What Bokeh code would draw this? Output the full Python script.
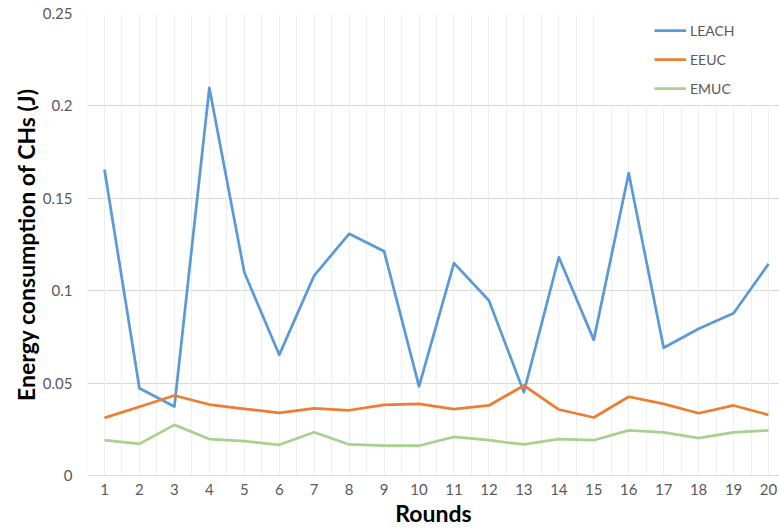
from bokeh.plotting import figure
from bokeh.models import Range1d, FixedTicker, Grid, Legend, LegendItem, ColumnDataSource, BoxAnnotation
from bokeh.embed import file_html
from bokeh.resources import INLINE

rounds = list(range(1, 21))
leach = [0.1656, 0.0472, 0.0373, 0.2098, 0.1100, 0.0653, 0.1082, 0.1308, 0.1214, 0.0482,
         0.1149, 0.0947, 0.0451, 0.1181, 0.0734, 0.1636, 0.0691, 0.0794, 0.0878, 0.1145]
eeuc = [0.0312, 0.0372, 0.0433, 0.0384, 0.0361, 0.0339, 0.0363, 0.0353, 0.0382, 0.0388,
        0.0359, 0.0379, 0.0487, 0.0357, 0.0314, 0.0426, 0.0388, 0.0337, 0.0379, 0.0328]
emuc = [0.0191, 0.0171, 0.0274, 0.0197, 0.0186, 0.0166, 0.0234, 0.0168, 0.0162, 0.0161,
        0.0209, 0.0191, 0.0168, 0.0197, 0.0191, 0.0244, 0.0233, 0.0202, 0.0233, 0.0244]
series_names = ["LEACH", "EEUC", "EMUC"]
colors = ["#5B9BD5", "#ED7D31", "#A9D18E"]
y_ticks = [0, 0.05, 0.1, 0.15, 0.2, 0.25]
y_tick_labels = ["0", "0.05", "0.1", "0.15", "0.2", "0.25"]
x_title = "Rounds"
y_title = "Energy consumption of CHs (J)"

FONT = "Lato"
TXT = "#595959"

p = figure(width=779, height=531, output_backend="svg", toolbar_location=None,
           x_range=Range1d(0.514, 20.314), y_range=Range1d(0, 0.25),
           min_border_left=87, min_border_right=0, min_border_top=13, min_border_bottom=56)
p.outline_line_color = None
p.background_fill_color = "white"

# grids
p.xgrid.visible = False
p.ygrid.ticker = FixedTicker(ticks=y_ticks)
p.ygrid.grid_line_color = "#D9D9D9"
p.ygrid.grid_line_width = 1
vgrid = Grid(dimension=0, ticker=FixedTicker(ticks=[r - 0.5 for r in rounds] + [r for r in rounds] + [20.5]),
             grid_line_color="#EFEFEF", grid_line_width=1)
p.add_layout(vgrid)

# white legend area (as in the reference, the legend box hides the vertical grid)
p.add_layout(BoxAnnotation(left=15.2, right=21, bottom=0.2006, top=0.2494,
                           fill_color="white", fill_alpha=1, line_color=None))

# axes
xa = p.xaxis[0]
xa.ticker = FixedTicker(ticks=rounds)
xa.axis_line_color = "#D9D9D9"
xa.major_tick_line_color = None
xa.major_tick_out = 0
xa.major_tick_in = 0
xa.minor_tick_line_color = None
xa.major_label_text_font = FONT
xa.major_label_text_font_size = "15px"
xa.major_label_text_color = TXT
xa.major_label_standoff = 8
xa.axis_label = x_title
xa.axis_label_text_font = FONT
xa.axis_label_text_font_size = "23px"
xa.axis_label_text_font_style = "bold"
xa.axis_label_text_color = "black"
xa.axis_label_standoff = 1

ya = p.yaxis[0]
ya.ticker = FixedTicker(ticks=y_ticks)
ya.major_label_overrides = {t: l for t, l in zip(y_ticks, y_tick_labels)}
ya.axis_line_color = None
ya.major_tick_line_color = None
ya.major_tick_out = 0
ya.major_tick_in = 0
ya.minor_tick_line_color = None
ya.major_label_text_font = FONT
ya.major_label_text_font_size = "15px"
ya.major_label_text_color = TXT
ya.major_label_standoff = 15
ya.axis_label = y_title
ya.axis_label_text_font = FONT
ya.axis_label_text_font_size = "23px"
ya.axis_label_text_font_style = "bold"
ya.axis_label_text_color = "black"
ya.axis_label_standoff = 0

renderers = []
for name, vals, c in zip(series_names, [leach, eeuc, emuc], colors):
    src = ColumnDataSource(dict(x=rounds, y=vals))
    r = p.line("x", "y", source=src, line_color=c, line_width=2.75, line_join="round")
    renderers.append(r)

legend = Legend(items=[LegendItem(label=n, renderers=[r]) for n, r in zip(series_names, renderers)],
                location=(567, 377))
legend.background_fill_color = "white"
legend.background_fill_alpha = 1
legend.border_line_color = None
legend.padding = 5
legend.margin = 0
legend.spacing = 9
legend.glyph_width = 32
legend.glyph_height = 20
legend.label_height = 20
legend.label_standoff = 4
legend.label_text_font = FONT
legend.label_text_font_size = "14px"
legend.label_text_color = TXT
p.add_layout(legend)

open("out.html", "w").write(file_html(p, INLINE))
